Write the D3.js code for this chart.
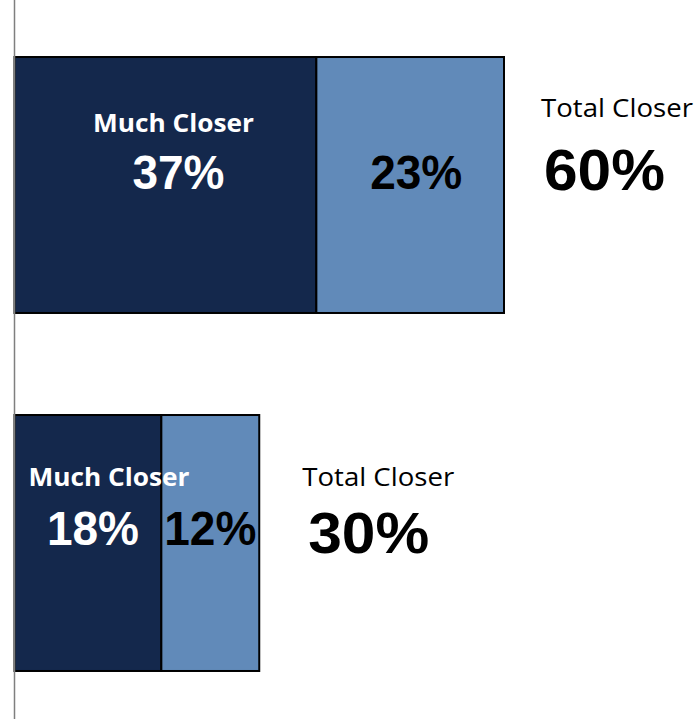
<!DOCTYPE html>
<html>
<head>
<meta charset="utf-8">
<script src="https://cdn.jsdelivr.net/npm/d3@7"></script>
<style>
  body { margin: 0; background: #fff; }
</style>
</head>
<body>
<div id="chart"></div>
<script>
// Data
var categories = ["Row 1", "Row 2"];
var muchCloser = [37, 18];
var somewhatCloser = [23, 12];
var totalCloser = [60, 30];
var muchLabel = "Much Closer";
var totalLabel = "Total Closer";

var svgWidth = 698;
var svgHeight = 719;

var svg = d3.select("#chart")
    .append("svg")
    .attr("width", svgWidth)
    .attr("height", svgHeight);

var axisX = 14.5;

// Scales
var xScale = d3.scaleLinear()
    .domain([0, 60])
    .range([axisX, 504]);

var yScale = d3.scaleBand()
    .domain(categories)
    .range([6, 722])
    .paddingInner(0.285)
    .paddingOuter(0.1425);

var rows = categories.map(function (c, i) {
    return { cat: c, much: muchCloser[i], some: somewhatCloser[i], total: totalCloser[i], i: i };
});

// label nudges per row (hand placed like the original)
var nudge = [
    { mcX: 8, mcY: 75, valY: 132, darkX: 13, lightX: 6, tcX: 37, tcY: 60, totX: 40, totY: 133 },
    { mcX: 21, mcY: 71, valY: 130, darkX: 5, lightX: 0, tcX: 43, tcY: 71, totX: 49, totY: 138 }
];

// Bars
var g = svg.append("g");

g.selectAll("rect.much")
    .data(rows)
    .enter()
    .append("rect")
    .attr("class", "much")
    .attr("x", xScale(0))
    .attr("y", d => yScale(d.cat))
    .attr("width", d => xScale(d.much) - xScale(0))
    .attr("height", yScale.bandwidth())
    .attr("fill", "#14284c")
    .attr("stroke", "#000")
    .attr("stroke-width", 2);

g.selectAll("rect.some")
    .data(rows)
    .enter()
    .append("rect")
    .attr("class", "some")
    .attr("x", d => xScale(d.much))
    .attr("y", d => yScale(d.cat))
    .attr("width", d => xScale(d.much + d.some) - xScale(d.much))
    .attr("height", yScale.bandwidth())
    .attr("fill", "#618ab9")
    .attr("stroke", "#000")
    .attr("stroke-width", 2);

// Vertical axis line
svg.append("line")
    .attr("x1", axisX).attr("x2", axisX)
    .attr("y1", 0).attr("y2", svgHeight)
    .attr("stroke", "#7f7f7f")
    .attr("stroke-width", 1.5);

// Labels
var labels = svg.append("g");

rows.forEach(function (d) {
    var n = nudge[d.i];
    var top = yScale(d.cat);

    labels.append("text")
        .attr("x", (xScale(0) + xScale(d.much)) / 2 + n.mcX)
        .attr("y", top + n.mcY)
        .attr("text-anchor", "middle")
        .attr("font-family", "'Open Sans', sans-serif")
        .attr("font-weight", "bold")
        .attr("font-size", 25)
        .attr("textLength", 161)
        .attr("lengthAdjust", "spacingAndGlyphs")
        .attr("fill", "#fff")
        .text(muchLabel);

    labels.append("text")
        .attr("x", (xScale(0) + xScale(d.much)) / 2 + n.darkX)
        .attr("y", top + n.valY)
        .attr("text-anchor", "middle")
        .attr("font-family", "'Liberation Sans', Arial, sans-serif")
        .attr("font-weight", "bold")
        .attr("font-size", 48)
        .attr("textLength", 92)
        .attr("lengthAdjust", "spacingAndGlyphs")
        .attr("fill", "#fff")
        .text(d.much + "%");

    labels.append("text")
        .attr("x", (xScale(d.much) + xScale(d.much + d.some)) / 2 + n.lightX)
        .attr("y", top + n.valY)
        .attr("text-anchor", "middle")
        .attr("font-family", "'Liberation Sans', Arial, sans-serif")
        .attr("font-weight", "bold")
        .attr("font-size", 48)
        .attr("textLength", 92)
        .attr("lengthAdjust", "spacingAndGlyphs")
        .attr("fill", "#000")
        .text(d.some + "%");

    labels.append("text")
        .attr("x", xScale(d.total) + n.tcX)
        .attr("y", top + n.tcY)
        .attr("font-family", "'Open Sans', sans-serif")
        .attr("font-size", 25)
        .attr("textLength", 152)
        .attr("lengthAdjust", "spacingAndGlyphs")
        .attr("fill", "#000")
        .text(totalLabel);

    labels.append("text")
        .attr("x", xScale(d.total) + n.totX)
        .attr("y", top + n.totY)
        .attr("font-family", "'Liberation Sans', Arial, sans-serif")
        .attr("font-weight", "bold")
        .attr("font-size", 58)
        .attr("textLength", 121)
        .attr("lengthAdjust", "spacingAndGlyphs")
        .attr("fill", "#000")
        .text(d.total + "%");
});
</script>
</body>
</html>
